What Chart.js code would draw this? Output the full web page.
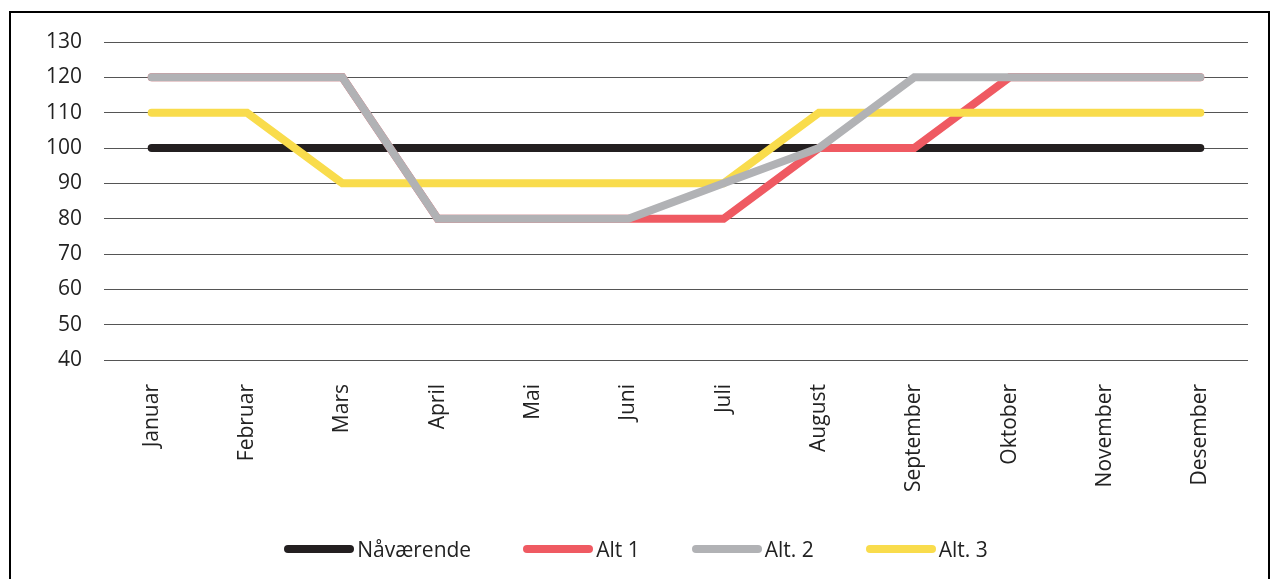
<!DOCTYPE html>
<html>
<head>
<meta charset="utf-8">
<script src="https://cdn.jsdelivr.net/npm/chart.js@4/dist/chart.umd.min.js"></script>
<style>
  html, body { margin: 0; padding: 0; background: #fff; }
  #ramme { position: absolute; left: 9px; top: 11px; width: 1261px; height: 600px; border: 2px solid #000; box-sizing: border-box; }
  #wrap { position: absolute; left: 0; top: 0; width: 1272px; height: 579px; }
  #legende { position: absolute; left: 0; top: 536px; width: 1272px; height: 26px; display: flex; justify-content: center; align-items: center; font-family: 'Open Sans', sans-serif; font-size: 21px; color: #222; }
  #legende .post { display: flex; align-items: center; margin: 0 26px; }
  #legende .strek { display: inline-block; width: 70px; height: 8px; border-radius: 4px; margin-right: 3px; }
</style>
</head>
<body>
<div id="ramme"></div>
<div id="wrap"><canvas id="chart"></canvas></div>
<div id="legende"></div>
<script>
// data
const maaneder = ['Januar', 'Februar', 'Mars', 'April', 'Mai', 'Juni', 'Juli', 'August', 'September', 'Oktober', 'November', 'Desember']
const naavaerende = [100, 100, 100, 100, 100, 100, 100, 100, 100, 100, 100, 100]
const alt1 = [120, 120, 120, 80, 80, 80, 80, 100, 100, 120, 120, 120]
const alt2 = [120, 120, 120, 80, 80, 80, 90, 100, 120, 120, 120, 120]
const alt3 = [110, 110, 90, 90, 90, 90, 90, 110, 110, 110, 110, 110]

const farger = ['#231f20', '#ef5a62', '#b1b2b5', '#f9dc4c']

function linje(label, data, farge, rekkefolge) {
  return {
    label: label,
    data: data,
    borderColor: farge,
    backgroundColor: farge,
    borderWidth: 8,
    borderCapStyle: 'round',
    borderJoinStyle: 'miter',
    pointRadius: 0,
    tension: 0,
    order: rekkefolge
  }
}

const data = {
  labels: maaneder,
  datasets: [
    linje('Nåværende', naavaerende, farger[0], 4),
    linje('Alt 1', alt1, farger[1], 3),
    linje('Alt. 2', alt2, farger[2], 1),
    linje('Alt. 3', alt3, farger[3], 2)
  ]
}

const config = {
  type: 'line',
  data: data,
  options: {
    responsive: false,
    animation: false,
    layout: { padding: { left: 0, right: 24, top: 42, bottom: 45 } },
    plugins: {
      tooltip: { enabled: false },
      legend: { display: false }
    },
    scales: {
      x: {
        offset: true,
        grid: { display: false, drawTicks: false },
        border: { display: false },
        ticks: {
          minRotation: 90,
          maxRotation: 90,
          padding: 24,
          color: '#222',
          font: { family: 'Open Sans', size: 21 }
        },
        afterFit: (scale) => { scale.height = 174 }
      },
      y: {
        min: 40,
        max: 130,
        grid: { color: '#555', lineWidth: 1, drawTicks: false },
        border: { display: false },
        ticks: {
          stepSize: 10,
          padding: 22,
          color: '#222',
          font: { family: 'Open Sans', size: 21 }
        },
        afterFit: (scale) => { scale.width = 104 }
      }
    }
  }
}

const canvas = document.querySelector('#chart')
canvas.width = 1272
canvas.height = 579
const linjeChart = new Chart(canvas, config)

// html legend
const legende = document.querySelector('#legende')
data.datasets.forEach(ds => {
  const post = document.createElement('div')
  post.className = 'post'
  const strek = document.createElement('span')
  strek.className = 'strek'
  strek.style.background = ds.borderColor
  const tekst = document.createElement('span')
  tekst.textContent = ds.label
  post.appendChild(strek)
  post.appendChild(tekst)
  legende.appendChild(post)
})
</script>
</body>
</html>
